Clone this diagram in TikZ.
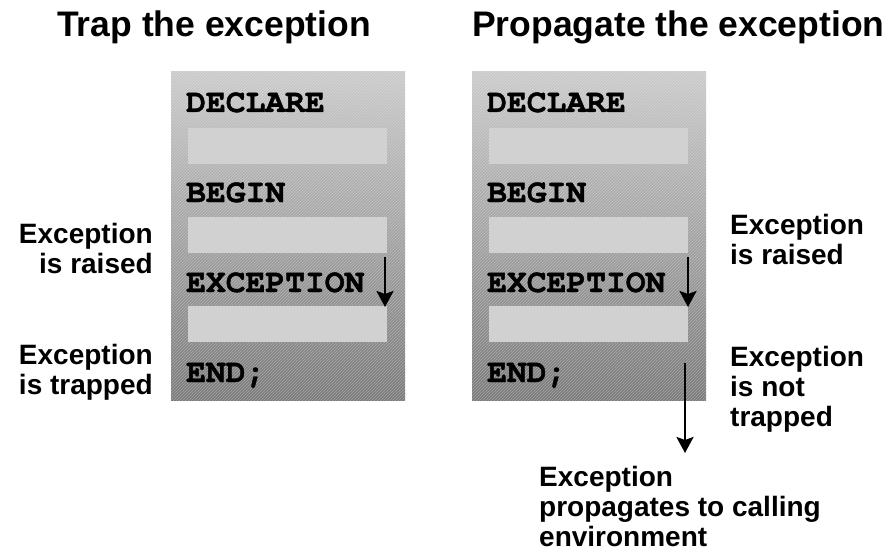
\documentclass[tikz,border=0pt]{standalone}
\usepackage{fontspec}
\setmainfont{Liberation Sans}
\newfontfamily\codefont[BoldFeatures={FakeBold=1.2}]{TeX Gyre Cursor}
\usetikzlibrary{arrows.meta,patterns}

\begin{document}
\begin{tikzpicture}[x=1pt,y=-1pt,
    title/.style={anchor=base west,inner sep=0,font=\bfseries\fontsize{35.5}{40}\selectfont},
    note/.style={inner sep=0,font=\bfseries\fontsize{28}{30}\selectfont},
    code/.style={anchor=base west,inner sep=0,font=\codefont\bfseries\fontsize{33}{36}\selectfont},
    block/.style={shading angle=-40,top color=black!21,bottom color=black!52},
    slot/.style={fill=black!18},
    flow/.style={line width=2.6pt,-{Stealth[length=16pt,width=17pt,inset=3pt]}}]
    \useasboundingbox (0,0) rectangle (891,559);

    \node[title] (t1) at (57,37) {Trap the exception};
    \node[title] (t2) at (472,37) {Propagate the exception};

    % the two blocks
    \foreach \x/\b in {171/trap,472/prop} {
        \shade[block] (\x,72) rectangle +(234,328);
        \fill[pattern=north east lines,pattern color=white,opacity=0.3] (\x,72) rectangle +(234,328);
        \foreach \y in {128,217,306}
            \fill[slot] (\x+17,\y) rectangle +(199,36);
        \foreach \y/\w [count=\i] in {112/DECLARE,202/BEGIN,292/EXCEPTION,382/END;}
            \node[code] (\b-\i) at (\x+15,\y) {\w};
    }

    % labels (base = last line)
    \node[note,anchor=base east,align=right] (l1) at (153,273) {Exception\\is raised};
    \node[note,anchor=base east,align=right] (l2) at (153,394) {Exception\\is trapped};
    \node[note,anchor=base west,align=left] (r1) at (730,264) {Exception\\is raised};
    \node[note,anchor=base west,align=left] (r2) at (730,426) {Exception\\is not\\trapped};
    \node[note,anchor=base west,align=left] (r3) at (539,546) {Exception\\propagates to calling\\environment};

    % arrows
    \coordinate (a1) at (385,257); \coordinate (b1) at (385,307);
    \coordinate (a2) at (688,257); \coordinate (b2) at (688,307);
    \coordinate (a3) at (685,363); \coordinate (b3) at (685,453);
    \draw[flow] (a1) -- (b1);
    \draw[flow] (a2) -- (b2);
    \draw[flow] (a3) -- (b3);
\end{tikzpicture}
\end{document}
